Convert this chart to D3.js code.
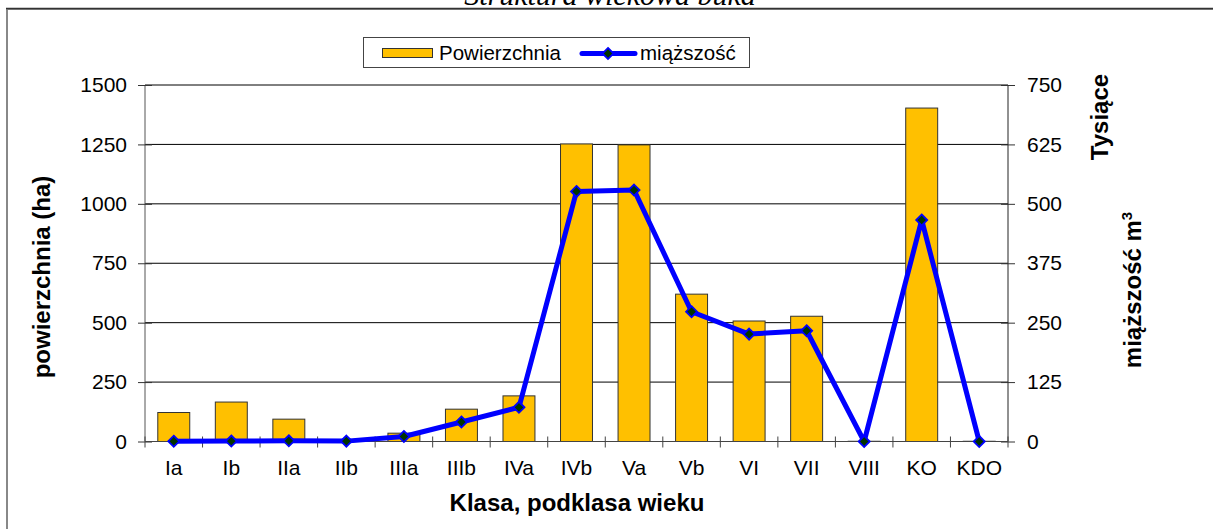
<!DOCTYPE html>
<html>
<head>
<meta charset="utf-8">
<script src="https://cdn.jsdelivr.net/npm/d3@7"></script>
<style>
  html, body { margin: 0; padding: 0; background: #fff; }
  svg { display: block; }
  text { font-family: "Liberation Sans", Arial, sans-serif; }
</style>
</head>
<body>
<svg id="chart" width="1213" height="529"></svg>
<script>
const categories = ["Ia","Ib","IIa","IIb","IIIa","IIIb","IVa","IVb","Va","Vb","VI","VII","VIII","KO","KDO"];
const powierzchnia = [122, 166, 94, 0, 35, 136, 192, 1252, 1248, 620, 507, 527, 1, 1403, 1];
const miazszosc = [0.5, 1, 1.5, 0.8, 10.5, 41, 72, 526, 529, 273, 226, 233, 0, 466, 0];
const leftTicks = [0, 250, 500, 750, 1000, 1250, 1500];
const rightTicks = [0, 125, 250, 375, 500, 625, 750];

const svg = d3.select("#chart");
const L = 145, R = 1008, T = 85, B = 441.5;

// frame
svg.append("rect").attr("x", 7).attr("y", 9).attr("width", 1230).attr("height", 540)
  .attr("fill", "#fff").attr("stroke", "#888").attr("stroke-width", 2);
svg.append("line").attr("x1", 6).attr("x2", 1213).attr("y1", 8.5).attr("y2", 8.5)
  .attr("stroke", "#333").attr("stroke-width", 1.5);

// title (cut off at top, as in the reference)
svg.append("text").attr("x", 610).attr("y", 5).attr("text-anchor", "middle")
  .style("font-family", "'Liberation Serif', 'Times New Roman', serif")
  .style("font-style", "italic").style("font-size", "30px")
  .text("Struktura wiekowa buka");

const x = d3.scaleBand().domain(categories).range([L, R]).paddingInner(0).paddingOuter(0);
const yL = d3.scaleLinear().domain([0, 1500]).range([B, T]);
const yR = d3.scaleLinear().domain([0, 750]).range([B, T]);

// gridlines
svg.append("g").selectAll("line").data(leftTicks.filter(d => d > 0)).join("line")
  .attr("x1", L).attr("x2", R).attr("y1", d => yL(d)).attr("y2", d => yL(d))
  .attr("stroke", "#000").attr("stroke-width", 1);

// bars
const bw = x.bandwidth() / 1.8;
svg.append("g").selectAll("rect").data(categories).join("rect")
  .attr("x", (d) => x(d) + (x.bandwidth() - bw) / 2)
  .attr("y", (d, i) => yL(powierzchnia[i]))
  .attr("width", bw)
  .attr("height", (d, i) => B - yL(powierzchnia[i]))
  .attr("fill", "#FFC000").attr("stroke", "#333").attr("stroke-width", 1);

// left axis
const gL = svg.append("g").attr("transform", `translate(${L},0)`)
  .call(d3.axisLeft(yL).tickValues(leftTicks).tickFormat(d3.format("d")).tickSize(7).tickPadding(11));
gL.selectAll(".tick line").attr("x1", 7).attr("x2", -7).attr("stroke", "#333");
gL.select(".domain").attr("stroke", "#555").attr("d", `M0,${T}V${B}`);
gL.selectAll("text").style("font-size", "21px").attr("fill", "#000");

// right axis
const gR = svg.append("g").attr("transform", `translate(${R},0)`)
  .call(d3.axisRight(yR).tickValues(rightTicks).tickFormat(d3.format("d")).tickSize(7).tickPadding(12));
gR.selectAll(".tick line").attr("x1", -7).attr("x2", 7).attr("stroke", "#333");
gR.select(".domain").attr("stroke", "#222").attr("d", `M0,${T}V${B}`);
gR.selectAll("text").style("font-size", "21px").attr("fill", "#000");

// bottom axis
const gB = svg.append("g").attr("transform", `translate(0,${B})`)
  .call(d3.axisBottom(x).tickSize(0).tickPadding(19));
gB.select(".domain").attr("stroke", "#444").attr("d", `M${L},0H${R}`);
gB.selectAll("text").style("font-size", "21px").attr("fill", "#000");
const bounds = categories.map(c => x(c)).concat([R]);
gB.append("g").selectAll("line").data(bounds).join("line")
  .attr("x1", d => d).attr("x2", d => d).attr("y1", -5).attr("y2", 6)
  .attr("stroke", "#444").attr("stroke-width", 1);

// line series
const line = d3.line()
  .x((d, i) => x(categories[i]) + x.bandwidth() / 2)
  .y(d => yR(d));
svg.append("path").datum(miazszosc).attr("d", line)
  .attr("fill", "none").attr("stroke", "#0000FF").attr("stroke-width", 5)
  .attr("stroke-linejoin", "round");
const diamond = d3.symbol().type(d3.symbolDiamond2).size(78);
svg.append("g").selectAll("path").data(miazszosc).join("path")
  .attr("d", diamond)
  .attr("transform", (d, i) => `translate(${x(categories[i]) + x.bandwidth() / 2},${yR(d)})`)
  .attr("fill", "#003300").attr("stroke", "#0000FF").attr("stroke-width", 1.8);

// axis titles
svg.append("text").attr("transform", "translate(50,277) rotate(-90)")
  .attr("text-anchor", "middle").style("font-size", "24px").style("font-weight", "bold")
  .text("powierzchnia (ha)");
svg.append("text").attr("x", 577).attr("y", 511).attr("text-anchor", "middle")
  .style("font-size", "24px").style("font-weight", "bold")
  .text("Klasa, podklasa wieku");
svg.append("text").attr("transform", "translate(1108,117) rotate(-90)")
  .attr("text-anchor", "middle").style("font-size", "24px").style("font-weight", "bold")
  .text("Tysiące");
const t2 = svg.append("text").attr("transform", "translate(1141,290) rotate(-90)")
  .attr("text-anchor", "middle").style("font-size", "24px").style("font-weight", "bold");
t2.append("tspan").text("miąższość m");
t2.append("tspan").attr("dy", -9).style("font-size", "15px").text("3");

// legend
const lg = svg.append("g");
lg.append("rect").attr("x", 363.5).attr("y", 37.5).attr("width", 386).attr("height", 30)
  .attr("fill", "#fff").attr("stroke", "#444").attr("stroke-width", 1);
lg.append("rect").attr("x", 382.5).attr("y", 48.5).attr("width", 50).attr("height", 9)
  .attr("fill", "#FFC000").attr("stroke", "#333");
lg.append("text").attr("x", 439).attr("y", 60).style("font-size", "20.5px").text("Powierzchnia");
lg.append("line").attr("x1", 582).attr("x2", 635).attr("y1", 53.5).attr("y2", 53.5)
  .attr("stroke", "#0000FF").attr("stroke-width", 5).attr("stroke-linecap", "round");
lg.append("path").attr("d", diamond).attr("transform", "translate(608,53.5)")
  .attr("fill", "#003300").attr("stroke", "#0000FF").attr("stroke-width", 1.8);
lg.append("text").attr("x", 640).attr("y", 60).style("font-size", "20.5px").text("miąższość");
</script>
</body>
</html>
